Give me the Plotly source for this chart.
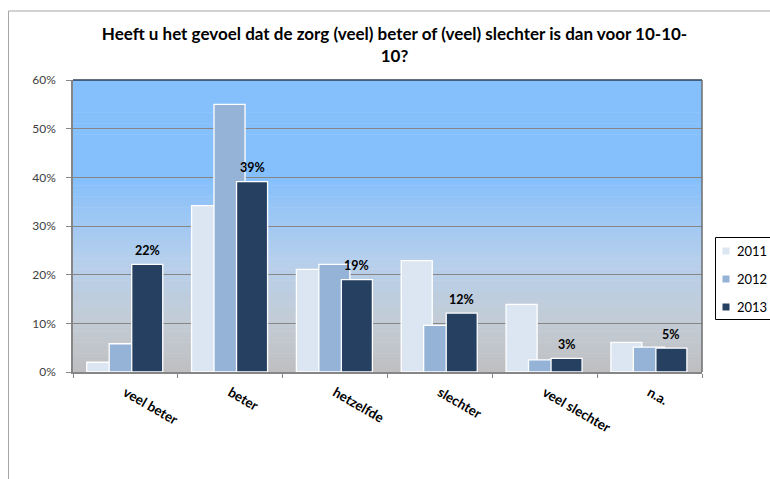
import plotly.graph_objects as go

categories = ["veel beter", "beter", "hetzelfde", "slechter", "veel slechter", "n.a."]
years = ["2011", "2012", "2013"]
v2011 = [0.02, 0.342, 0.211, 0.229, 0.139, 0.061]
v2012 = [0.058, 0.55, 0.221, 0.096, 0.025, 0.051]
v2013 = [0.221, 0.391, 0.19, 0.121, 0.028, 0.049]
labels2013 = ["22%", "39%", "19%", "12%", "3%", "5%"]
y_ticks = [0, 0.1, 0.2, 0.3, 0.4, 0.5, 0.6]
y_ticktext = ["0%", "10%", "20%", "30%", "40%", "50%", "60%"]

colors = ["#DCE6F2", "#95B3D7", "#254061"]
series = [v2011, v2012, v2013]
offsets = [-0.369, -0.155, 0.06]
bw = 0.296
FONT = "Lato, 'Open Sans', sans-serif"

W, H = 770, 479
ML, MR, MT, MB = 73, 68, 80, 107
PW = W - ML - MR
PH = H - MT - MB

def px2paper_x(px):
    return (px - ML) / PW

def px2paper_y(py):
    return (H - MB - py) / PH

fig = go.Figure()
for name, vals, col, off in zip(years, series, colors, offsets):
    fig.add_trace(go.Bar(
        x=categories, y=vals, name=name, offset=off, width=bw,
        marker=dict(color=col, line=dict(color="white", width=1.3)),
        showlegend=False, hoverinfo="skip",
    ))

# legend entries (text); swatches drawn as small squares beside them
for name in years:
    fig.add_trace(go.Scatter(
        x=[None], y=[None], mode="markers", name=name,
        marker=dict(symbol="square", size=7, color="rgba(0,0,0,0)"),
        legendgroup="g" + name, showlegend=True,
    ))

def hex2rgb(h):
    h = h.lstrip("#")
    return tuple(int(h[i:i + 2], 16) for i in (0, 2, 4))

stops = [(0.0, "#BFBFC1"), (0.18, "#C3CCD6"), (0.38, "#B6CFEC"), (0.58, "#94C4F6"), (0.66, "#85C0FC"), (1.0, "#85C0FC")]
shapes = []
N = 80
for k in range(N):
    f0, f1 = k / N, (k + 1) / N
    fm = (f0 + f1) / 2
    for j in range(len(stops) - 1):
        a, ca = stops[j]
        b, cb = stops[j + 1]
        if a <= fm <= b:
            t = (fm - a) / (b - a)
            r1, g1, b1 = hex2rgb(ca)
            r2, g2, b2 = hex2rgb(cb)
            col = "rgb(%d,%d,%d)" % (round(r1 + (r2 - r1) * t), round(g1 + (g2 - g1) * t), round(b1 + (b2 - b1) * t))
            break
    shapes.append(dict(type="rect", xref="paper", yref="paper", x0=0, x1=1, y0=f0, y1=f1 + 0.002,
                       fillcolor=col, line=dict(width=0), layer="below"))

# plot area top and right border
shapes.append(dict(type="line", xref="paper", yref="paper", x0=0, x1=1, y0=1, y1=1,
                   line=dict(color="#000000", width=1.2)))
shapes.append(dict(type="line", xref="paper", yref="paper", x0=1, x1=1, y0=0, y1=1,
                   line=dict(color="#6E6E6E", width=1.5)))
# chart outer frame
shapes.append(dict(type="rect", xref="paper", yref="paper",
                   x0=px2paper_x(8.5), x1=px2paper_x(800), y0=px2paper_y(520), y1=px2paper_y(11),
                   line=dict(color="#A6A6A6", width=1), fillcolor="rgba(0,0,0,0)", layer="below"))
# legend frame
shapes.append(dict(type="rect", xref="paper", yref="paper",
                   x0=px2paper_x(715.5), x1=px2paper_x(810), y0=px2paper_y(319.5), y1=px2paper_y(237.5),
                   line=dict(color="#000000", width=1), fillcolor="rgba(0,0,0,0)"))
# legend swatches
for i, col in enumerate(colors):
    cy = 251 + 28 * i
    shapes.append(dict(type="rect", xref="paper", yref="paper",
                       x0=px2paper_x(722.5), x1=px2paper_x(729.5),
                       y0=px2paper_y(cy + 3.5), y1=px2paper_y(cy - 3.5),
                       fillcolor=col, line=dict(width=0)))

annotations = []
for cat, v, lab in zip(categories, v2013, labels2013):
    annotations.append(dict(x=cat, y=v, xref="x", yref="y", text=lab, showarrow=False,
                            xshift=(offsets[2] + bw / 2) * PW / len(categories),
                            yanchor="middle", yshift=14,
                            font=dict(family=FONT, size=12.5, color="#000000", weight="bold")))

fig.update_layout(
    width=W, height=H,
    margin=dict(l=ML, r=MR, t=MT, b=MB, pad=0, autoexpand=False),
    paper_bgcolor="white", plot_bgcolor="rgba(0,0,0,0)",
    barmode="overlay",
    title=dict(text="Heeft u het gevoel dat de zorg (veel) beter of (veel) slechter is dan voor 10-10-<br>10?",
               x=394.5 / W, xanchor="center", xref="container",
               y=1 - 40 / H, yanchor="top", yref="container",
               font=dict(family=FONT, size=17, color="#000000", weight="bold")),
    xaxis=dict(type="category", categoryorder="array", categoryarray=categories,
               tickson="boundaries", ticks="outside", ticklen=4, tickcolor="#868686",
               showline=True, linecolor="#868686", linewidth=1.5,
               showgrid=False, tickangle=30, ticklabelstandoff=6,
               tickfont=dict(family=FONT, size=13.5, color="#000000", weight="bold"),
               range=[-0.5, len(categories) - 0.5]),
    yaxis=dict(range=[0, 0.6], tickvals=y_ticks, ticktext=y_ticktext,
               ticks="outside", ticklen=5, tickcolor="#868686",
               showline=True, linecolor="#868686", linewidth=1.5,
               showgrid=True, gridcolor="#868686", gridwidth=1.3, zeroline=False,
               ticklabelstandoff=8,
               tickfont=dict(family=FONT, size=12, color="#404040")),
    legend=dict(x=(697 - ML) / PW, xanchor="left", y=(H - MB - 236) / PH, yanchor="top",
                bgcolor="rgba(0,0,0,0)", borderwidth=0, tracegroupgap=8,
                font=dict(family=FONT, size=13, color="#000000")),
    shapes=shapes,
    annotations=annotations,
)

fig.write_html("out.html", config={"displayModeBar": False},
               post_script="document.body.style.margin='0px';document.body.style.overflow='hidden';")
